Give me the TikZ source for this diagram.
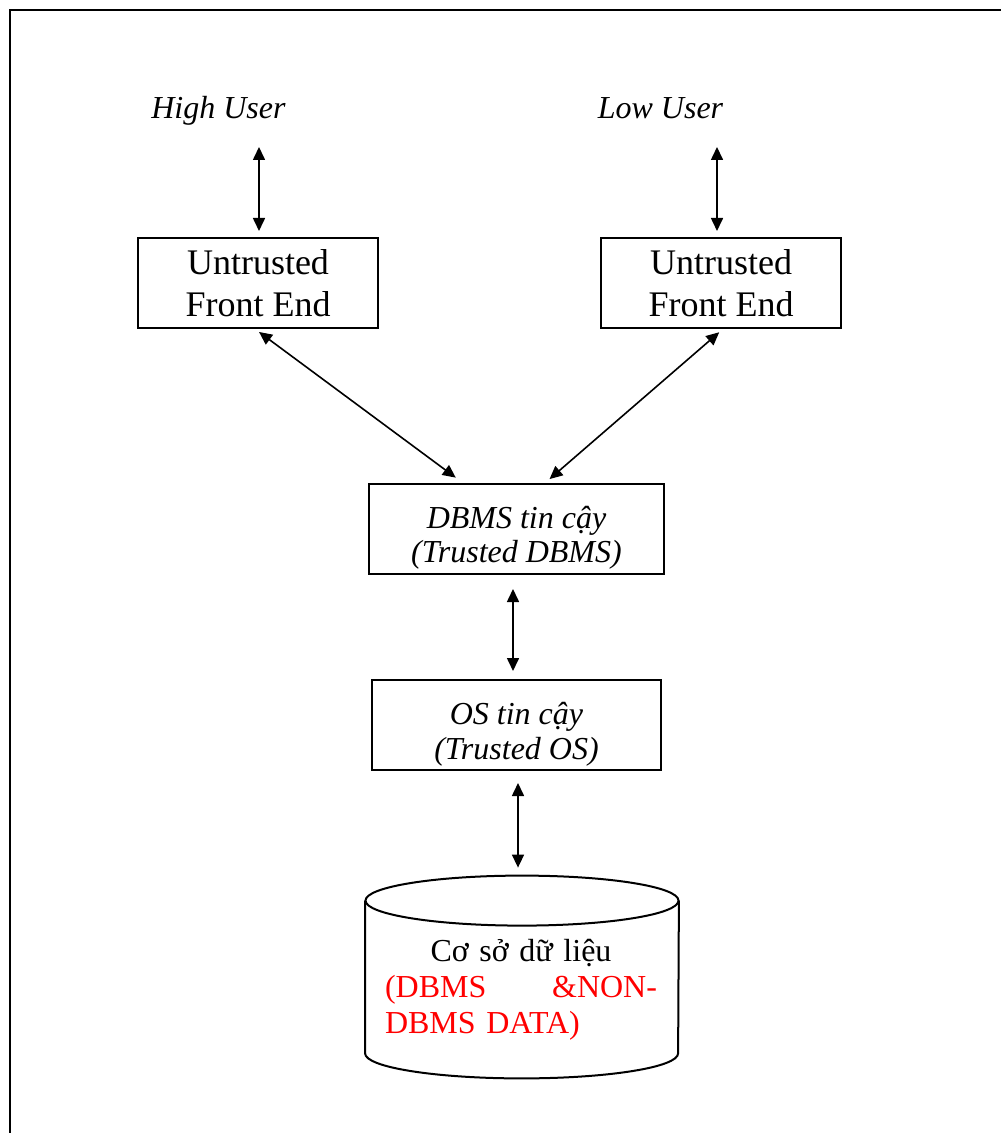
\documentclass[tikz,border=0pt]{standalone}
\usepackage{fontspec}
\setmainfont{Liberation Serif}
\usetikzlibrary{arrows.meta,calc}

\begin{document}
\begin{tikzpicture}[x=0.5pt,y=-0.5pt,
  box/.style={draw, line width=1pt, inner sep=0pt, align=center, minimum height=45pt},
  label/.style={inner sep=0pt, align=center},
  user/.style={inner sep=0pt, anchor=base, font=\itshape\fontsize{16}{19}\selectfont},
  link/.style={{Triangle[length=6.5pt,width=6pt]}-{Triangle[length=6.5pt,width=6pt]}, line width=0.8pt},
  frame/.style={line width=1pt}]
  \useasboundingbox (0,0) rectangle (1001,1133);

  % open page frame
  \draw[frame] (9.5,1133) -- (9.5,10) -- (1001,10);

  % users
  \node[user] (hu) at (218.5,119) {High User};
  \node[user] (lu) at (660.5,119) {Low User};
  \coordinate (huA) at (259,147);
  \coordinate (luA) at (717,147);

  % front ends
  \node[box, minimum width=120pt, font=\fontsize{18}{21}\selectfont] (fe1) at (258,283) {Untrusted\\Front End};
  \node[box, minimum width=120pt, font=\fontsize{18}{21}\selectfont] (fe2) at (721,283) {Untrusted\\Front End};

  % trusted layers
  \node[box, minimum width=147.5pt] (dbms) at (516.5,529) {};
  \node[label, font=\itshape\fontsize{16}{17}\selectfont] (dbmstxt) at ($(dbms)+(0,9)$) {DBMS tin cậy\\(Trusted DBMS)};
  \node[box, minimum width=144.5pt] (os) at (516.5,725) {};
  \node[label, font=\itshape\fontsize{16}{17.5}\selectfont] (ostxt) at ($(os)+(0,9)$) {OS tin cậy\\(Trusted OS)};

  % database cylinder
  \node[inner sep=0pt, minimum width=156.5pt, minimum height=101pt] (db) at (522,977) {};
  \draw[line width=1pt] ($(db.north)+(0,25)$) ellipse [x radius=78.25pt, y radius=12.5pt];
  \draw[line width=1pt] ($(db.north west)+(0,25)$) -- ($(db.south west)+(0,-25)$)
    arc [start angle=180, end angle=360, x radius=78.25pt, y radius=12.5pt]
    -- ($(db.north east)+(0,25)$);
  \node[label, text width=136pt, font=\fontsize{16}{18}\selectfont] (dbtxt) at (521,990)
    {Cơ sở dữ liệu\\
     \textcolor{red}{\makebox[136pt][l]{(DBMS\hfill\&NON-}}\\
     \textcolor{red}{\makebox[136pt][l]{DBMS DATA)}}};

  % connectors
  \draw[link, shorten >=3pt] (huA) -- (huA |- fe1.north);
  \draw[link, shorten >=3pt] (luA) -- (luA |- fe2.north);
  \draw[link, shorten <=2.5pt, shorten >=4.5pt] ($(fe1.south)+(-3,0)$) -- ($(dbms.north)+(-53.5,0)$);
  \draw[link, shorten <=2.5pt, shorten >=3pt] ($(fe2.south)+(2,0)$) -- ($(dbms.north)+(28.5,0)$);
  \draw[link, shorten <=7pt, shorten >=4pt] ($(dbms.south)+(-3.5,0)$) -- ($(os.north)+(-3.5,0)$);
  \draw[link, shorten <=6pt, shorten >=4pt] ($(os.south)+(1.5,0)$) -- ($(db.north)+(-4,0)$);
\end{tikzpicture}
\end{document}
